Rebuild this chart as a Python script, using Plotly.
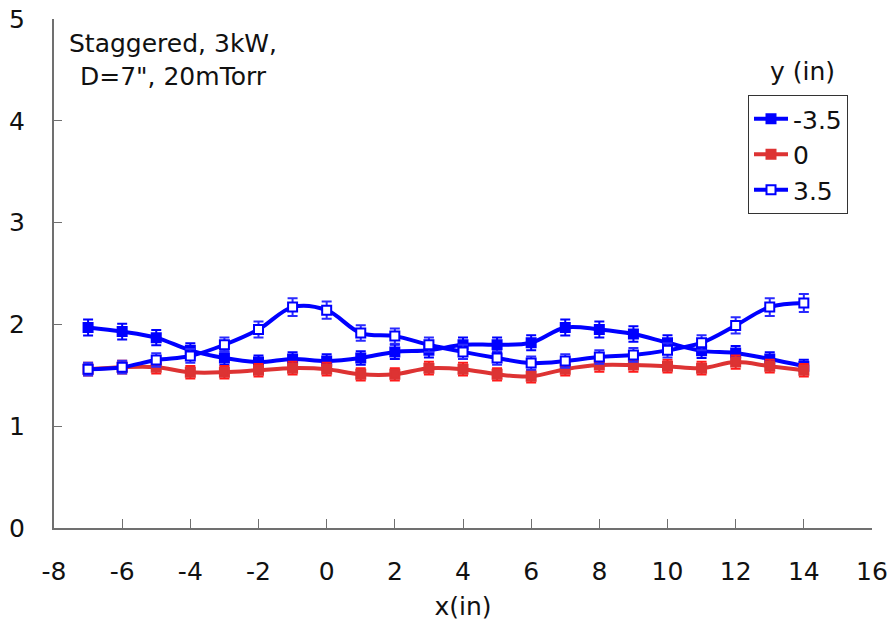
import plotly.graph_objects as go

x_vals = [-7, -6, -5, -4, -3, -2, -1, 0, 1, 2, 3, 4, 5, 6, 7, 8, 9, 10, 11, 12, 13, 14]
y_neg35 = [1.97, 1.93, 1.87, 1.745, 1.67, 1.63, 1.66, 1.64, 1.67, 1.73, 1.745, 1.80, 1.80, 1.82,
           1.97, 1.95, 1.905, 1.82, 1.74, 1.72, 1.66, 1.59]
y_0 = [1.56, 1.58, 1.58, 1.53, 1.53, 1.55, 1.57, 1.56, 1.51, 1.51, 1.57, 1.56, 1.51, 1.49,
       1.56, 1.60, 1.60, 1.59, 1.57, 1.63, 1.59, 1.55]
y_35 = [1.56, 1.58, 1.65, 1.69, 1.80, 1.95, 2.17, 2.14, 1.915, 1.885, 1.80, 1.73, 1.67, 1.62,
        1.64, 1.68, 1.70, 1.745, 1.82, 1.99, 2.17, 2.21]
err_percent = 4

names = ["-3.5", "0", "3.5"]
x_ticks = list(range(-8, 17, 2))
y_ticks = [0, 1, 2, 3, 4, 5]

FONT = "DejaVu Sans"
BLUE = "#0000ff"
RED = "#dd3333"

fig = go.Figure()

def add(y, name, color, fill, ecolor):
    fig.add_trace(go.Scatter(
        x=x_vals, y=y, name=name, mode="lines+markers",
        line=dict(color=color, width=4, shape="spline", smoothing=1),
        marker=dict(symbol="square", size=9, color=fill,
                    line=dict(color=color, width=2)),
        error_y=dict(type="percent", value=err_percent, color=ecolor,
                     thickness=2, width=5),
    ))

add(y_neg35, names[0], BLUE, BLUE, BLUE)
add(y_0, names[1], RED, RED, "#ff1a1a")
add(y_35, names[2], BLUE, "white", "#2a2aff")

plot_w = 896 - 54 - 24
plot_h = 630 - 19 - 102

fig.update_layout(
    width=896, height=630,
    margin=dict(l=54, r=24, t=19, b=102, autoexpand=False),
    paper_bgcolor="white", plot_bgcolor="white",
    font=dict(family=FONT, size=25, color="#111111"),
    showlegend=True,
    legend=dict(
        x=(748 - 54) / plot_w, y=(528 - 95) / plot_h, xanchor="left", yanchor="top",
        bordercolor="#333333", borderwidth=1, bgcolor="white",
        font=dict(family=FONT, size=25, color="#111111"),
        itemwidth=34, tracegroupgap=0,
    ),
)

fig.update_xaxes(
    range=[-8, 16], tickvals=x_ticks, ticktext=[str(v) for v in x_ticks],
    showgrid=False, zeroline=False, showline=True, linecolor="#707070", linewidth=2,
    ticks="inside", ticklen=9, tickcolor="#707070", tickwidth=1,
    ticklabelstandoff=20, automargin=False,
    title=dict(text="x(in)", font=dict(family=FONT, size=25), standoff=12),
)
fig.update_yaxes(
    range=[0, 5], tickvals=y_ticks, ticktext=[str(v) for v in y_ticks],
    showgrid=False, zeroline=False, showline=True, linecolor="#707070", linewidth=2,
    ticks="inside", ticklen=8, tickcolor="#707070", tickwidth=1,
    ticklabelstandoff=22, automargin=False,
)

fig.add_annotation(
    x=(173 - 54) / plot_w, y=(528 - 60) / plot_h, xref="paper", yref="paper",
    xanchor="center", yanchor="middle",
    text="Staggered, 3kW,<br>D=7\", 20mTorr", showarrow=False, align="center",
    font=dict(family=FONT, size=25, color="#111111"),
)
fig.add_annotation(
    x=(802 - 54) / plot_w, y=(528 - 72) / plot_h, xref="paper", yref="paper",
    text="y (in)", showarrow=False, xanchor="center", yanchor="middle",
    font=dict(family=FONT, size=25, color="#111111"),
)

fig.write_html("out.html")
